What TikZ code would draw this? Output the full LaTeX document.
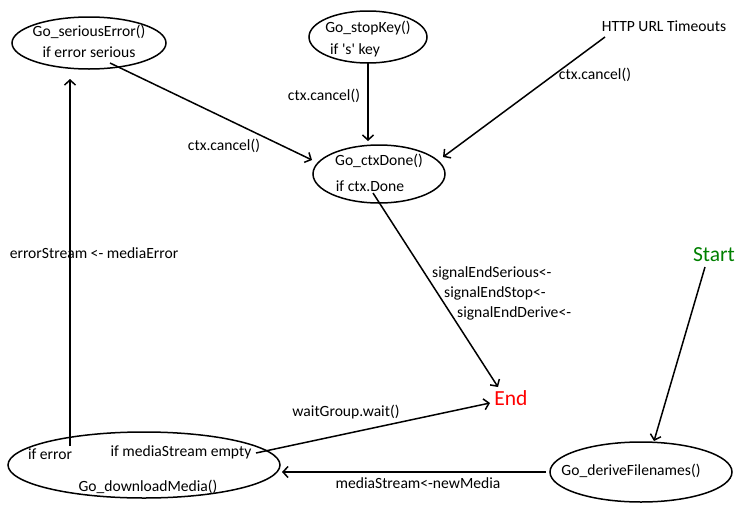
\documentclass[tikz,border=0pt]{standalone}
\usepackage{fontspec}
\setmainfont{Carlito}[Ligatures=TeXOff]
\usetikzlibrary{shapes.geometric,arrows.meta}
\begin{document}
\begin{tikzpicture}[x=1pt,y=-1pt,
  oval/.style={draw,ellipse,line width=1.5pt,inner sep=0pt,outer sep=0pt},
  lbl/.style={inner sep=0pt,font=\fontsize{15.6pt}{17pt}\selectfont},
  big/.style={inner sep=0pt,font=\fontsize{21.5pt}{24pt}\selectfont},
  conn/.style={line width=1.5pt,-{Straight Barb[length=5pt,width=11pt,line width=1.5pt]}}]
\useasboundingbox[fill=white] (0,0) rectangle (740,512);
% ellipses
\node[oval,minimum width=154pt,minimum height=52pt] (serr) at (89,43) {};
\node[oval,minimum width=118pt,minimum height=52pt] (stop) at (368,37) {};
\node[oval,minimum width=132pt,minimum height=58pt] (ctx) at (379,174) {};
\node[oval,minimum width=272pt,minimum height=66pt] (dl) at (144,465) {};
\node[oval,minimum width=182pt,minimum height=60pt] (der) at (641,472) {};
% ellipse texts
\node[lbl] (serrT) at (89,32) {Go\_seriousError()};
\node[lbl] (serrC) at (89,52) {if error serious};
\node[lbl] (stopT) at (368,28) {Go\_stopKey()};
\node[lbl] (stopC) at (355,50) {if 's' key};
\node[lbl] (ctxT) at (379,161) {Go\_ctxDone()};
\node[lbl] (ctxC) at (370,186) {if ctx.Done};
\node[lbl] (dlE) at (50,454) {if error};
\node[lbl] (dlM) at (181,452) {if mediaStream empty};
\node[lbl] (dlT) at (148,487) {Go\_downloadMedia()};
\node[lbl] (derT) at (631,471) {Go\_deriveFilenames()};
% free labels
\node[lbl] (http) at (664,26) {HTTP URL Timeouts};
\node[big,text=green!50!black] (start) at (714,255) {Start};
\node[big,text=red] (end) at (511,398) {End};
\node[lbl] (c1) at (595,75) {ctx.cancel()};
\node[lbl] (c2) at (324,96) {ctx.cancel()};
\node[lbl] (c3) at (224,146) {ctx.cancel()};
\node[lbl] (es) at (94,253) {errorStream <- mediaError};
\node[lbl,anchor=west] (s1) at (432,273) {signalEndSerious<-};
\node[lbl,anchor=west] (s2) at (444,293) {signalEndStop<-};
\node[lbl,anchor=west] (s3) at (457,313) {signalEndDerive<-};
\node[lbl] (wg) at (346,412) {waitGroup.wait()};
\node[lbl] (mn) at (418,483) {mediaStream<-newMedia};
% connector end points
\coordinate (a1) at (110,63);
\coordinate (a2) at (312,160);
\coordinate (b1) at (368,62);
\coordinate (b2) at (368,141);
\coordinate (h1) at (605,37);
\coordinate (h2) at (443,157);
\coordinate (d1) at (373,193);
\coordinate (d2) at (498,387);
\coordinate (e1) at (70,446);
\coordinate (e2) at (70,79);
\coordinate (m1) at (256,453);
\coordinate (m2) at (490,403);
\coordinate (st1) at (705,267);
\coordinate (st2) at (654,441);
\coordinate (n1) at (546,472);
\coordinate (n2) at (282,472);
% connectors
\draw[conn] (a1) -- (a2);
\draw[conn] (b1) -- (b2);
\draw[conn] (h1) -- (h2);
\draw[conn] (d1) -- (d2);
\draw[conn] (e1) -- (e2);
\draw[conn] (m1) -- (m2);
\draw[conn] (st1) -- (st2);
\draw[conn] (n1) -- (n2);
\end{tikzpicture}
\end{document}
